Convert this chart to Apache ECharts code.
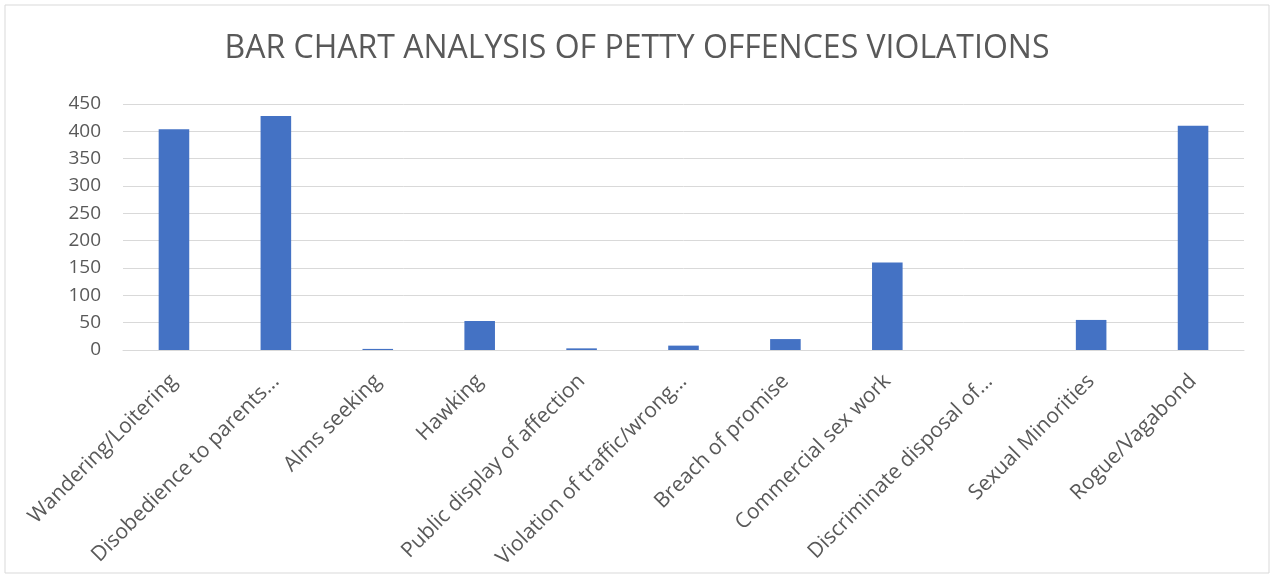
<!DOCTYPE html>
<html>
<head>
<meta charset="utf-8">
<script src="https://cdn.jsdelivr.net/npm/echarts@6/dist/echarts.min.js"></script>
<style>html,body{margin:0;padding:0;background:#fff}#c{width:1274px;height:578px}</style>
</head>
<body>
<div id="c"></div>
<script>
const titleText = 'BAR CHART ANALYSIS OF PETTY OFFENCES VIOLATIONS';
const categories = ['Wandering/Loitering','Disobedience to parents...','Alms seeking','Hawking','Public display of affection','Violation of traffic/wrong...','Breach of promise','Commercial sex work','Discriminate disposal of...','Sexual Minorities','Rogue/Vagabond'];
const values = [404, 428, 2, 53, 3, 8, 20, 160, 0, 55, 410];
const yTicks = {min: 0, max: 450, interval: 50};

const chart = echarts.init(document.getElementById('c'), null, {renderer: 'canvas'});
chart.setOption({
  backgroundColor: '#fff',
  animation: false,
  title: {
    text: titleText, left: 'center', top: 28,
    textStyle: {fontFamily: 'Open Sans', fontWeight: 'normal', fontSize: 32, color: '#595959'}
  },
  graphic: [{
    type: 'rect', shape: {x: 5, y: 5, width: 1264, height: 568},
    style: {fill: 'none', stroke: '#D9D9D9', lineWidth: 1}, silent: true
  }],
  grid: {left: 123, right: 30, top: 104, bottom: 228, containLabel: false},
  xAxis: {
    type: 'category', data: categories,
    axisLine: {show: true, lineStyle: {color: '#D9D9D9', width: 1}},
    axisTick: {show: false},
    axisLabel: {interval: 0, rotate: 45, margin: 28, padding: [34, 0, 0, 0], fontFamily: 'Open Sans', fontSize: 21, color: '#595959'}
  },
  yAxis: {
    type: 'value', min: yTicks.min, max: yTicks.max, interval: yTicks.interval,
    axisLine: {show: false}, axisTick: {show: false},
    splitLine: {lineStyle: {color: '#D9D9D9', width: 1}},
    axisLabel: {margin: 22, fontFamily: 'Open Sans', fontSize: 19, color: '#595959'}
  },
  series: [{
    type: 'bar', data: values, barWidth: '30%',
    itemStyle: {color: '#4472C4'}
  }]
});
</script>
</body>
</html>
